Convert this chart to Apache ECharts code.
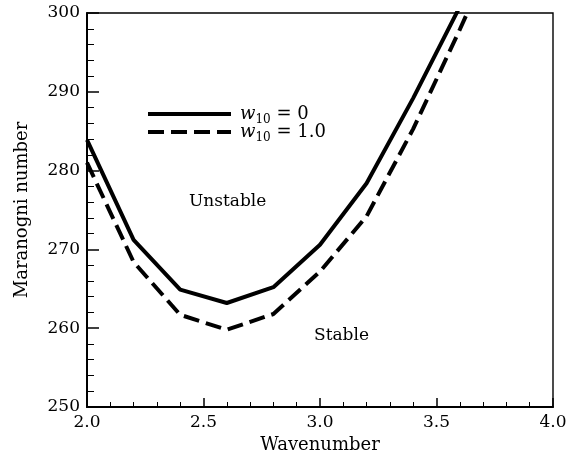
<!DOCTYPE html>
<html>
<head>
<meta charset="utf-8">
<script src="https://cdn.jsdelivr.net/npm/echarts@6/dist/echarts.min.js"></script>
<style>
  html, body { margin: 0; padding: 0; background: #fff; }
  #chart { width: 584px; height: 455px; }
</style>
</head>
<body>
<div id="chart"></div>
<script>
// wavenumber samples
var wavenumber = [2.0, 2.2, 2.4, 2.6, 2.8, 3.0, 3.2, 3.4, 3.6, 3.8]
// critical Marangoni number, w10 = 0 (solid)
var maW0 = [283.9, 271.2, 264.9, 263.2, 265.2, 270.6, 278.4, 289.2, 300.8, 314]
// critical Marangoni number, w10 = 1.0 (dashed)
var maW1 = [281.0, 268.4, 261.7, 259.8, 261.8, 267.2, 274.2, 285.3, 297.9, 311]
var seriesNames = ['w10 = 0', 'w10 = 1.0']
var legendTails = [' = 0', ' = 1.0']

var serif = 'DejaVu Serif'
var myChart = echarts.init(document.getElementById('chart'))

function pairs (xs, ys) {
  return xs.map(function (x, i) { return [x, ys[i]] })
}

var option = {
  backgroundColor: '#fff',
  animation: false,
  grid: {
    left: 87,
    right: 31,
    top: 13,
    bottom: 48,
    outerBoundsMode: 'none',
    show: true,
    borderColor: '#000',
    borderWidth: 1.4
  },
  legend: {
    orient: 'vertical',
    left: 141,
    top: 100,
    itemWidth: 83,
    itemHeight: 14,
    itemGap: -3,
    data: seriesNames,
    lineStyle: { width: 4 },
    itemStyle: { opacity: 0 },
    formatter: function (name) {
      var i = seriesNames.indexOf(name)
      return '{w|w}{s|10}{t|' + legendTails[i] + '}'
    },
    textStyle: {
      rich: {
        w: { fontFamily: serif, fontStyle: 'italic', fontSize: 18, lineHeight: 24, padding: [0, 0, 0, 4], color: '#000' },
        s: { fontFamily: serif, fontSize: 12, lineHeight: 12, verticalAlign: 'bottom', color: '#000' },
        t: { fontFamily: serif, fontSize: 18, lineHeight: 24, color: '#000' }
      }
    }
  },
  xAxis: {
    type: 'value',
    min: 2.0,
    max: 4.0,
    interval: 0.5,
    name: 'Wavenumber',
    nameLocation: 'middle',
    nameGap: 28,
    nameTextStyle: { fontFamily: serif, fontSize: 18, color: '#000' },
    axisLine: { show: true, lineStyle: { color: '#000', width: 2 } },
    axisTick: { show: true, inside: true, length: 9, lineStyle: { color: '#000', width: 1.5 } },
    minorTick: { show: true, splitNumber: 5, length: 5, lineStyle: { color: '#000', width: 1 } },
    splitLine: { show: false },
    axisLabel: {
      margin: 7,
      fontFamily: serif,
      fontSize: 17,
      color: '#000',
      formatter: function (v) { return v.toFixed(1) }
    }
  },
  yAxis: {
    type: 'value',
    min: 250,
    max: 300,
    interval: 10,
    name: 'Maranogni number',
    nameLocation: 'middle',
    nameGap: 56,
    nameTextStyle: { fontFamily: serif, fontSize: 18, color: '#000' },
    axisLine: { show: true, lineStyle: { color: '#000', width: 2 } },
    axisTick: { show: true, inside: true, length: 12, lineStyle: { color: '#000', width: 1.5 } },
    minorTick: { show: true, splitNumber: 5, length: 7, lineStyle: { color: '#000', width: 1 } },
    splitLine: { show: false },
    axisLabel: { margin: 7, fontFamily: serif, fontSize: 17, color: '#000' }
  },
  graphic: [
    { type: 'text', left: 189, top: 193, style: { text: 'Unstable', fontFamily: serif, fontSize: 17, fill: '#000' } },
    { type: 'text', left: 314, top: 327, style: { text: 'Stable', fontFamily: serif, fontSize: 17, fill: '#000' } }
  ],
  series: [
    {
      name: seriesNames[0],
      type: 'line',
      symbol: 'none',
      clip: true,
      data: pairs(wavenumber, maW0),
      lineStyle: { color: '#000', width: 4, type: 'solid' },
      itemStyle: { color: '#000' }
    },
    {
      name: seriesNames[1],
      type: 'line',
      symbol: 'none',
      clip: true,
      data: pairs(wavenumber, maW1),
      lineStyle: { color: '#000', width: 4, type: [16, 7] },
      itemStyle: { color: '#000' }
    }
  ]
}
myChart.setOption(option)
</script>
</body>
</html>
